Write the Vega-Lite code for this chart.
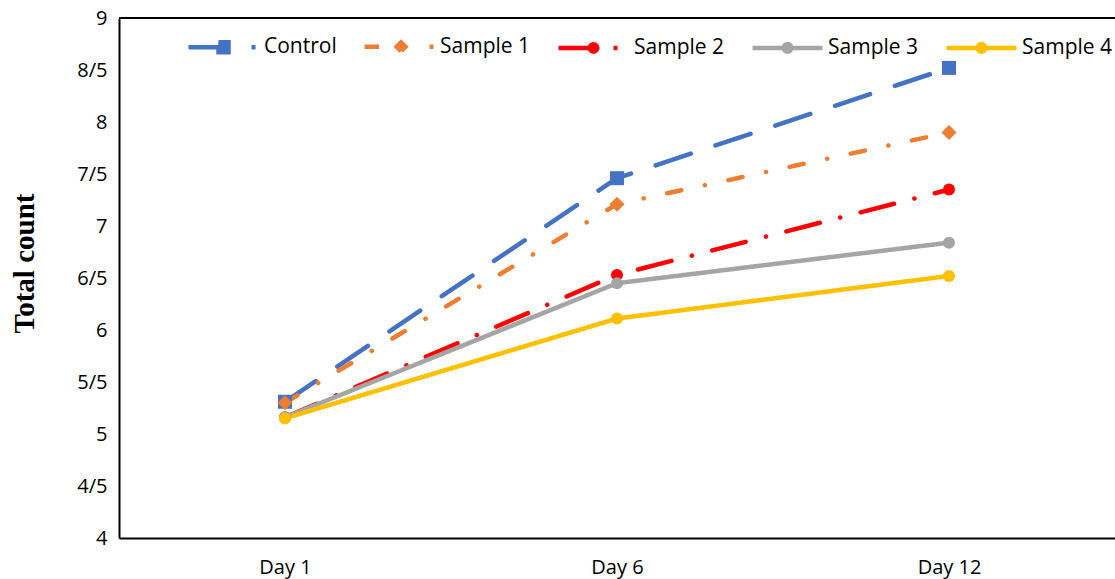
{
  "$schema": "https://vega.github.io/schema/vega-lite/v6.json",
  "width": 996,
  "height": 520,
  "autosize": {"type": "none"},
  "padding": {"left": 119, "top": 18, "right": 0, "bottom": 41},
  "background": "white",
  "config": {
    "view": {"stroke": null},
    "font": "Open Sans"
  },
  "data": {
    "values": [
      {"series": "Control", "day": "Day 1", "count": 5.31},
      {"series": "Control", "day": "Day 6", "count": 7.46},
      {"series": "Control", "day": "Day 12", "count": 8.52},
      {"series": "Sample 1", "day": "Day 1", "count": 5.30},
      {"series": "Sample 1", "day": "Day 6", "count": 7.21},
      {"series": "Sample 1", "day": "Day 12", "count": 7.90},
      {"series": "Sample 2", "day": "Day 1", "count": 5.16},
      {"series": "Sample 2", "day": "Day 6", "count": 6.53},
      {"series": "Sample 2", "day": "Day 12", "count": 7.35},
      {"series": "Sample 3", "day": "Day 1", "count": 5.16},
      {"series": "Sample 3", "day": "Day 6", "count": 6.45},
      {"series": "Sample 3", "day": "Day 12", "count": 6.84},
      {"series": "Sample 4", "day": "Day 1", "count": 5.15},
      {"series": "Sample 4", "day": "Day 6", "count": 6.11},
      {"series": "Sample 4", "day": "Day 12", "count": 6.52}
    ]
  },
  "encoding": {
    "x": {
      "field": "day", "type": "ordinal", "sort": ["Day 1", "Day 6", "Day 12"],
      "scale": {"type": "point", "padding": 0.5},
      "axis": {"title": null, "labelAngle": 0, "ticks": false, "domain": true, "domainColor": "black", "domainWidth": 2, "labelFont": "Open Sans", "labelFontSize": 20, "labelColor": "black", "labelBaseline": "alphabetic", "labelPadding": 35, "grid": false}
    },
    "y": {
      "field": "count", "type": "quantitative",
      "scale": {"domain": [4, 9], "nice": false, "zero": false},
      "axis": {
        "title": "Total count", "titleFont": "Liberation Serif", "titleFontSize": 29, "titleFontWeight": "bold", "titleColor": "black",
        "titleX": -86, "titleY": 245, "titleAlign": "center", "titleBaseline": "alphabetic", "titleAngle": 270,
        "values": [4, 4.5, 5, 5.5, 6, 6.5, 7, 7.5, 8, 8.5, 9],
        "labelExpr": "replace(toString(datum.value), '.', '/')",
        "ticks": false, "grid": false, "domain": true, "domainColor": "black", "domainWidth": 2,
        "labelFont": "Open Sans", "labelFontSize": 20, "labelColor": "black", "labelPadding": 12
      }
    }
  },
  "layer": [
    {
      "mark": {"type": "point", "filled": false, "opacity": 0},
      "encoding": {
        "color": {
          "field": "series", "type": "nominal",
          "scale": {"domain": ["Control", "Sample 1", "Sample 2", "Sample 3", "Sample 4"], "range": ["#4472C4", "#ED7D31", "#FF0000", "#A5A5A5", "#FFC000"]},
          "legend": {
            "orient": "none", "legendX": 94, "legendY": 18, "direction": "horizontal", "columns": 5,
            "title": null, "padding": 0, "symbolSize": 100, "symbolStrokeWidth": 4.5, "symbolOpacity": 1,
            "labelFont": "Open Sans", "labelFontSize": 21, "labelColor": "black", "labelOffset": 30, "columnPadding": 18,
            "encode": {"symbols": {"update": {"opacity": {"value": 1}, "fill": {"scale": "color", "field": "value"}, "stroke": {"scale": "color", "field": "value"}, "shape": {"scale": "shape", "field": "value"}, "strokeCap": {"value": "round"}, "strokeWidth": {"value": 4.5}}}}
          }
        },
        "shape": {
          "field": "series", "type": "nominal",
          "scale": {
            "domain": ["Control", "Sample 1", "Sample 2", "Sample 3", "Sample 4"],
            "range": [
              "M-7,0H1M-1,-1H1V1H-1ZM5.6,0H6.4",
              "M-7,0H-3.4M0,-1.2L1.2,0L0,1.2L-1.2,0ZM6,0H6.8",
              "M-7,0H0M0.75,0A0.75,0.75,0,1,1,-0.75,0A0.75,0.75,0,1,1,0.75,0ZM4,0H4.8",
              "M-7,0H7M0.75,0A0.75,0.75,0,1,1,-0.75,0A0.75,0.75,0,1,1,0.75,0Z",
              "M-7,0H7M0.75,0A0.75,0.75,0,1,1,-0.75,0A0.75,0.75,0,1,1,0.75,0Z"
            ]
          },
          "legend": {
            "orient": "none", "legendX": 94, "legendY": 18, "direction": "horizontal", "columns": 5,
            "title": null, "padding": 0, "symbolSize": 100, "symbolStrokeWidth": 4.5, "symbolOpacity": 1,
            "labelFont": "Open Sans", "labelFontSize": 21, "labelColor": "black", "labelOffset": 30, "columnPadding": 18,
            "encode": {"symbols": {"update": {"opacity": {"value": 1}, "fill": {"scale": "color", "field": "value"}, "stroke": {"scale": "color", "field": "value"}, "shape": {"scale": "shape", "field": "value"}, "strokeCap": {"value": "round"}, "strokeWidth": {"value": 4.5}}}}
          }
        }
      }
    },
    {
      "mark": {"type": "rule", "color": "black", "strokeWidth": 2},
      "encoding": {"x": null, "y": {"datum": 9}}
    },
    {
      "mark": {"type": "line", "strokeWidth": 4.5, "strokeCap": "round", "strokeJoin": "round"},
      "encoding": {
        "color": {"field": "series", "type": "nominal", "legend": null},
        "strokeDash": {
          "field": "series", "type": "nominal", "legend": null,
          "scale": {"domain": ["Control", "Sample 1", "Sample 2", "Sample 3", "Sample 4"], "range": [[37, 26], [14.5, 24, 0.1, 24], [34.5, 21, 0.1, 21], [1, 0], [1, 0]]}
        }
      }
    },
    {
      "transform": [{"filter": "datum.series === 'Control'"}],
      "mark": {"type": "point", "shape": "square", "filled": true, "size": 196, "opacity": 1},
      "encoding": {"color": {"field": "series", "type": "nominal", "legend": null}}
    },
    {
      "transform": [{"filter": "datum.series === 'Sample 1'"}],
      "mark": {"type": "point", "shape": "diamond", "filled": true, "size": 225, "opacity": 1},
      "encoding": {"color": {"field": "series", "type": "nominal", "legend": null}}
    },
    {
      "transform": [{"filter": "datum.series !== 'Control' && datum.series !== 'Sample 1'"}],
      "mark": {"type": "point", "shape": "circle", "filled": true, "size": 144, "opacity": 1},
      "encoding": {"color": {"field": "series", "type": "nominal", "legend": null}}
    }
  ]
}
